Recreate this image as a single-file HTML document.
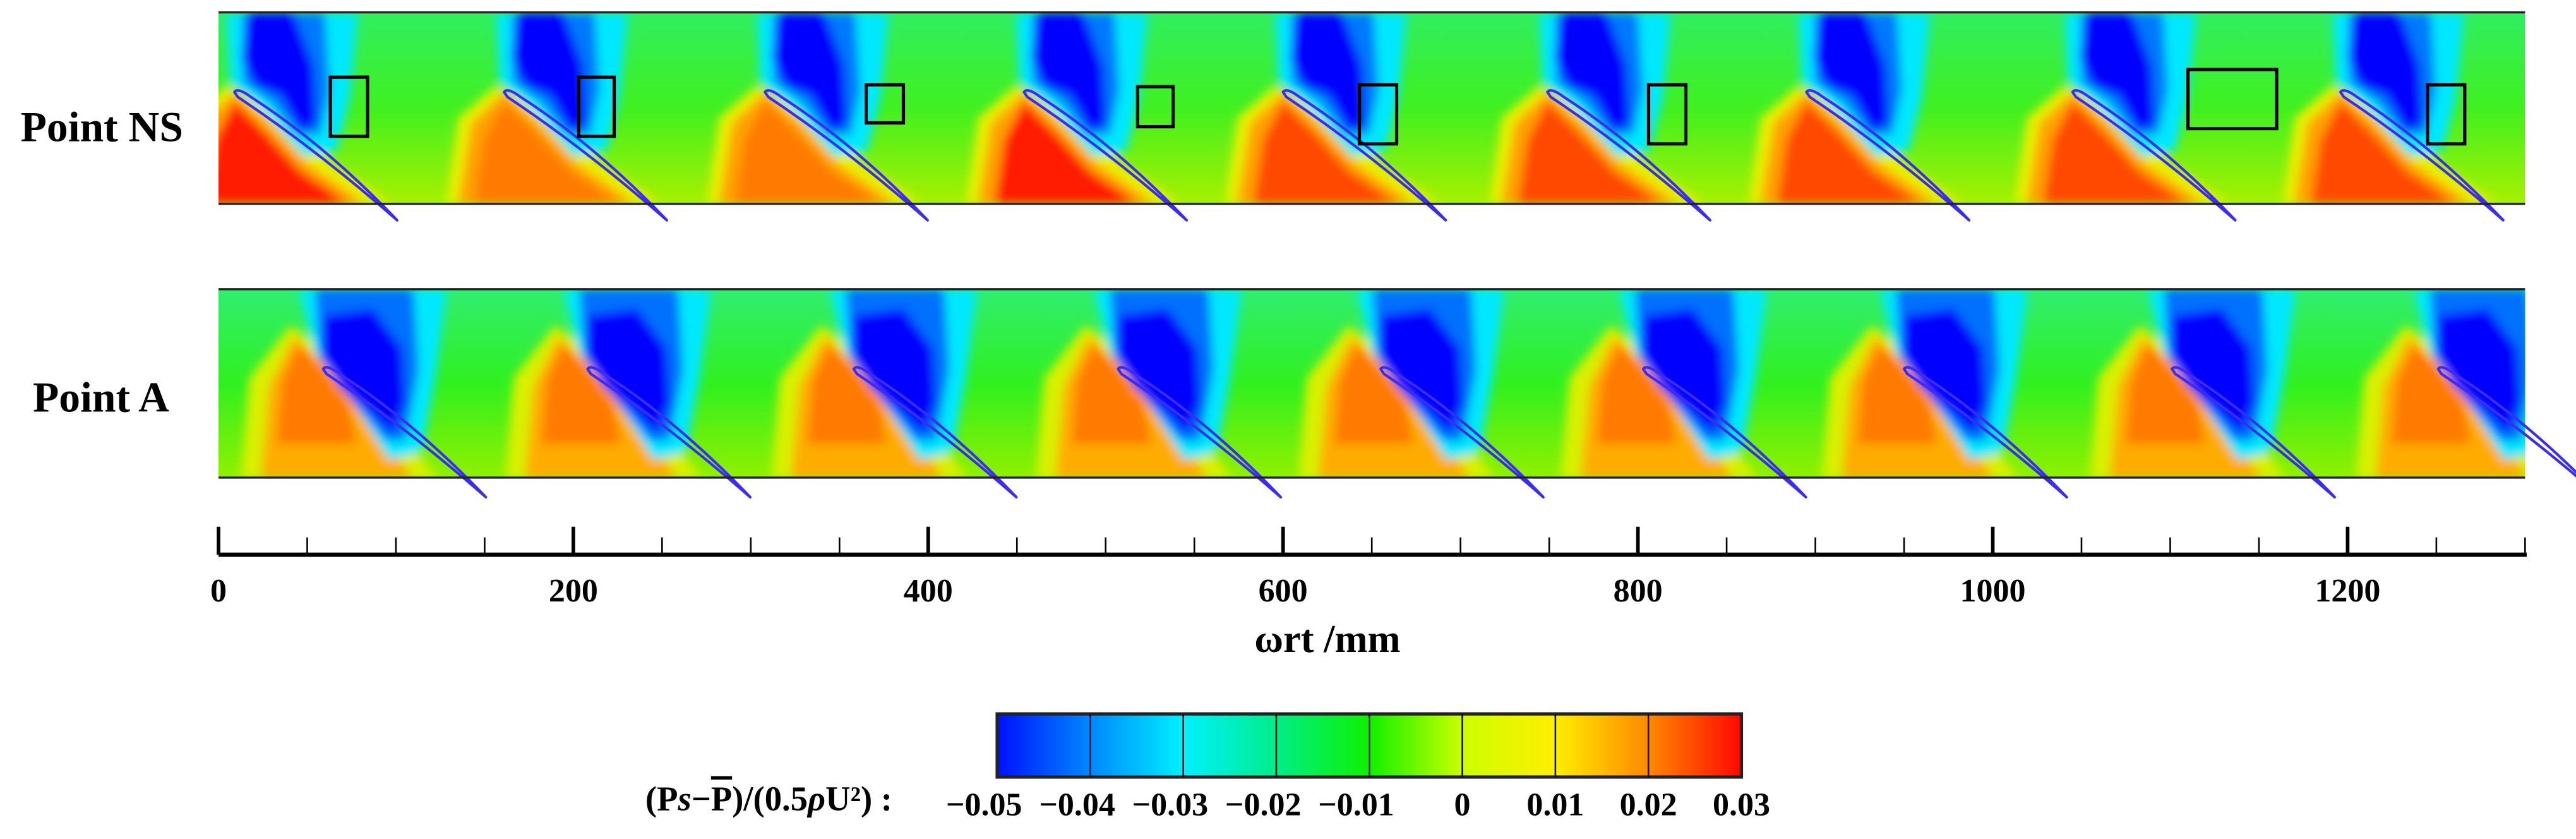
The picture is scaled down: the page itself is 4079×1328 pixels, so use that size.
<!DOCTYPE html>
<html><head><meta charset="utf-8"><title>Pressure contour</title>
<style>html,body{margin:0;padding:0;background:#fff;overflow:hidden;}svg{display:block;}</style></head>
<body>
<svg id="chart" xmlns="http://www.w3.org/2000/svg" width="4079" height="1328" viewBox="0 0 1568 510.5" preserveAspectRatio="none">
<defs>
<filter id="blur" x="-10%" y="-10%" width="120%" height="120%"><feGaussianBlur stdDeviation="3"/></filter>
<clipPath id="clipTop"><rect x="133" y="7.5" width="1404" height="116.5"/></clipPath>
<clipPath id="clipBot"><rect x="133" y="176" width="1404" height="114.6"/></clipPath>
<linearGradient id="cbGrad" x1="0" x2="1" y1="0" y2="0">
<stop offset="0" stop-color="#0010ff"/><stop offset="0.125" stop-color="#0088ff"/>
<stop offset="0.25" stop-color="#00f0ff"/><stop offset="0.375" stop-color="#00ee88"/>
<stop offset="0.5" stop-color="#10f000"/><stop offset="0.625" stop-color="#ccff00"/>
<stop offset="0.75" stop-color="#ffee00"/><stop offset="0.875" stop-color="#ff8800"/>
<stop offset="1" stop-color="#ff0800"/></linearGradient>
<linearGradient id="topBg" x1="0" x2="0" y1="0" y2="1">
<stop offset="0" stop-color="#30ee60"/><stop offset="0.5" stop-color="#40f020"/><stop offset="1" stop-color="#a8f000"/></linearGradient>
<linearGradient id="botBg" x1="0" x2="0" y1="0" y2="1">
<stop offset="0" stop-color="#30ee70"/><stop offset="0.5" stop-color="#30f020"/><stop offset="1" stop-color="#90f000"/></linearGradient>
</defs>
<g id="topField" clip-path="url(#clipTop)">
<rect x="133" y="7.5" width="1404" height="116.5" fill="url(#topBg)"/>
<g id="topBlobs" filter="url(#blur)"></g>
</g>
<g id="botField" clip-path="url(#clipBot)">
<rect x="133" y="176" width="1404" height="114.6" fill="url(#botBg)"/>
<g id="botBlobs" filter="url(#blur)"></g>
</g>
<g id="blades"></g>
<g id="boxes"></g>
<g id="frames">
<line x1="133" y1="7.5" x2="1537" y2="7.5" stroke="#222" stroke-width="1.3"/>
<line x1="133" y1="124" x2="1537" y2="124" stroke="#222" stroke-width="1.3"/>
<line x1="133" y1="176" x2="1537" y2="176" stroke="#222" stroke-width="1.3"/>
<line x1="133" y1="290.6" x2="1537" y2="290.6" stroke="#222" stroke-width="1.3"/>
</g>
<text x="62" y="86" text-anchor="middle" font-family="Liberation Serif, serif" font-weight="bold" font-size="26">Point NS</text>
<text x="61.5" y="250.5" text-anchor="middle" font-family="Liberation Serif, serif" font-weight="bold" font-size="26">Point A</text>
<g id="axis"></g>
<text x="808" y="396.7" text-anchor="middle" font-family="Liberation Serif, serif" font-weight="bold" font-size="24">ωrt /mm</text>
<g id="colorbar"></g>
<text x="468" y="493" text-anchor="middle" font-family="Liberation Serif, serif" font-weight="bold" font-size="21"><tspan>(P</tspan><tspan font-style="italic">s</tspan><tspan>−</tspan><tspan text-decoration="overline">P</tspan><tspan>)/(0.5</tspan><tspan font-style="italic">ρ</tspan><tspan>U²) :</tspan></text>
</svg>
<script>
// ---- data ----
const xTicks = [0, 200, 400, 600, 800, 1000, 1200];
const xMinor = [50, 100, 150, 250, 300, 350, 450, 500, 550, 650, 700, 750, 850, 900, 950, 1050, 1100, 1150, 1250, 1300];
const nsBladeMM = [9, 161, 308, 454, 600, 749, 895, 1045, 1196];
const aBladeMM = [59, 208, 358, 507, 655, 803, 950, 1101, 1251];
const nsRedLevel = [1.0, 0.55, 0.6, 1.0, 0.7, 0.65, 0.75, 0.7, 0.7];
const aRedLevel = [0.6, 0.6, 0.6, 0.6, 0.6, 0.6, 0.6, 0.6, 0.6];
const boxX0 = [63, 203, 365, 518, 643, 806, 1110, 1245];
const boxX1 = [84, 223, 386, 538, 664, 827, 1160, 1266];
const boxY0 = [0.34, 0.34, 0.38, 0.39, 0.38, 0.38, 0.30, 0.38];
const boxY1 = [0.65, 0.65, 0.58, 0.60, 0.69, 0.69, 0.61, 0.69];
const cbLevels = [-0.05, -0.04, -0.03, -0.02, -0.01, 0, 0.01, 0.02, 0.03];
const cbLabels = ["−0.05", "−0.04", "−0.03", "−0.02", "−0.01", "0", "0.01", "0.02", "0.03"];

const NS = "http://www.w3.org/2000/svg";
const X0 = 133, PXMM = 1404 / 1300;
const xs = mm => X0 + mm * PXMM;
const TOP = {y0: 7.5, y1: 124};
function mk(tag, attrs, parent) {
  const e = document.createElementNS(NS, tag);
  for (const k in attrs) e.setAttribute(k, attrs[k]);
  parent.appendChild(e);
  return e;
}
function poly(pts, fill, parent) {
  return mk("polygon", {points: pts.map(p => p.join(",")).join(" "), fill: fill}, parent);
}
function redColor(l) { return l > 0.8 ? "#ff1a00" : (l > 0.62 ? "#ff4a00" : "#ff7a00"); }

// top panel
const tb = document.getElementById("topBlobs");
nsBladeMM.forEach((mm, i) => {
  const x = xs(mm);
  const g = mk("g", {}, tb);
  
  
  poly([[x-35,124],[x-28,72],[x-5,52],[x+25,70],[x+60,100],[x+95,124]], "#e8f000", g);
  poly([[x-28,124],[x-20,75],[x,56],[x+22,75],[x+45,100],[x+80,124]], "#ffa000", g);
  poly([[x-18,124],[x-12,85],[x,62],[x+20,82],[x+40,104],[x+70,124]], redColor(nsRedLevel[i]), g);
  poly([[x-5,8],[x+75,8],[x+70,60],[x+62,92],[x+42,95],[x+20,70],[x-3,50]], "#00e8ff", g);
  poly([[x+5,8],[x+55,8],[x+58,55],[x+52,82],[x+38,82],[x+22,62],[x+5,50]], "#0078ff", g);
  poly([[x+8,8],[x+36,8],[x+48,40],[x+50,75],[x+40,80],[x+28,58],[x+12,52],[x+4,35]], "#0000ff", g);
});
// bottom panel
const bb = document.getElementById("botBlobs");
aBladeMM.forEach((mm, i) => {
  const x = xs(mm);
  const g = mk("g", {}, bb);
  
  
  poly([[x-50,291],[x-45,230],[x-20,198],[x+5,215],[x+40,255],[x+70,291]], "#d8f000", g);
  poly([[x-38,291],[x-33,235],[x-18,205],[x,220],[x+30,258],[x+55,291]], "#ffac00", g);
  poly([[x-28,270],[x-25,232],[x-15,210],[x,225],[x+15,245],[x+20,270]], redColor(aRedLevel[i]*0.8), g);
  poly([[x-15,176],[x+75,176],[x+68,230],[x+60,275],[x+40,280],[x+15,240],[x-5,215]], "#00e8ff", g);
  poly([[x-5,176],[x+55,176],[x+58,225],[x+50,268],[x+38,268],[x+18,245],[x-2,218]], "#0070ff", g);
  poly([[x,192],[x+30,188],[x+48,212],[x+50,245],[x+42,264],[x+28,250],[x+10,236],[x-1,215]], "#0000ff", g);
});

// blades
const bl = document.getElementById("blades");
function blade(x, y, name) {
  const d = `M${x},${y} Q${x+2},${y-3} ${x+10},${y+3} Q${x+55},${y+32} ${x+99},${y+78} Q${x+50},${y+35} ${x+2},${y+3} Z`;
  const p = mk("path", {d: d, fill: "none", stroke: "#3a2cf0", "stroke-width": "1.6", "stroke-linejoin": "round"}, bl);
  
  
}
nsBladeMM.forEach((mm, i) => blade(xs(mm), 56, 'ns-blade-' + i));
aBladeMM.forEach((mm, i) => blade(xs(mm), 224.5, 'a-blade-' + i));

// boxes
const bx = document.getElementById("boxes");
boxX0.forEach((v, i) => {
  const y0 = TOP.y0 + boxY0[i] * 116, y1 = TOP.y0 + boxY1[i] * 116;
  const r = mk("rect", {x: xs(v), y: y0, width: xs(boxX1[i]) - xs(v), height: y1 - y0, fill: "none", stroke: "#000", "stroke-width": "2"}, bx);
  
  
});

// axis
const ax = document.getElementById("axis");
const axl = mk("line", {x1: 133, y1: 337.5, x2: 1538, y2: 337.5, stroke: "#000", "stroke-width": "2.6"}, ax);


xTicks.forEach(v => {
  const t = mk("line", {x1: xs(v), y1: 320.5, x2: xs(v), y2: 337.5, stroke: "#000", "stroke-width": "2.2"}, ax);
  
  
  const tx = mk("text", {x: xs(v), y: 366, "text-anchor": "middle", "font-family": "Liberation Serif, serif", "font-weight": "bold", "font-size": "20"}, ax);
  tx.textContent = String(v);
  
  
});
xMinor.forEach(v => {
  const t = mk("line", {x1: xs(v), y1: 327, x2: xs(v), y2: 337.5, stroke: "#000", "stroke-width": "1"}, ax);
  
  
});

// colorbar
const cb = document.getElementById("colorbar");
const CBX0 = 607, CBX1 = 1060, CBY0 = 434.4, CBY1 = 472.8;
const cbx = v => CBX0 + (v - cbLevels[0]) / (cbLevels[cbLevels.length-1] - cbLevels[0]) * (CBX1 - CBX0);
const cr = mk("rect", {x: CBX0, y: CBY0, width: CBX1 - CBX0, height: CBY1 - CBY0, fill: "url(#cbGrad)", stroke: "#222", "stroke-width": "2"}, cb);


cbLevels.forEach((v, i) => {
  if (i > 0 && i < cbLevels.length - 1) {
    const l = mk("line", {x1: cbx(v), y1: CBY0, x2: cbx(v), y2: CBY1, stroke: "#111", "stroke-width": "1"}, cb);
    
    
  }
  const t = mk("text", {x: cbx(v) - (v < 0 ? 8 : 0), y: 496, "text-anchor": "middle", "font-family": "Liberation Serif, serif", "font-weight": "bold", "font-size": "20"}, cb);
  t.textContent = cbLabels[i];
  
  
});
</script>
</body></html>
